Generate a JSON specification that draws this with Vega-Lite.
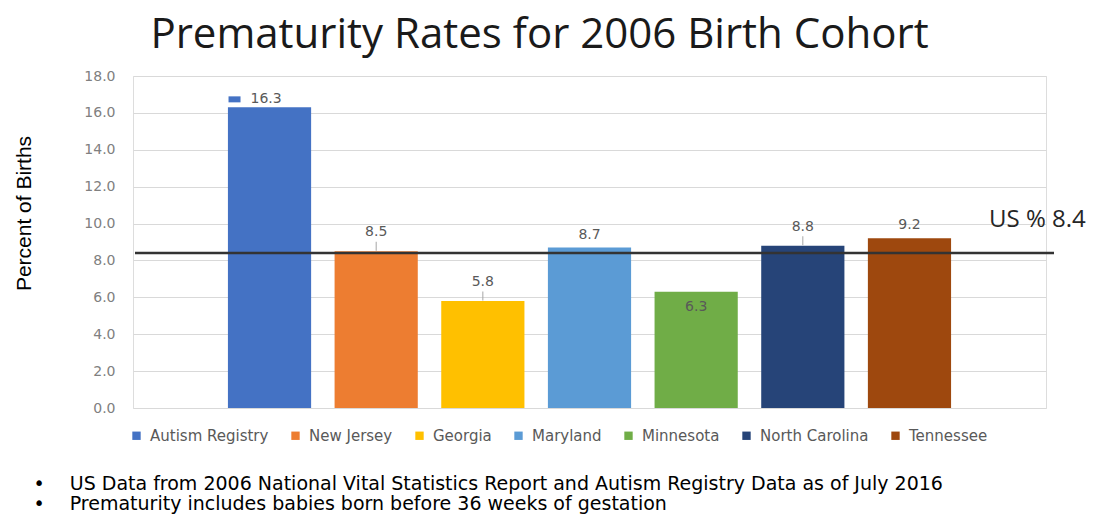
{
  "$schema": "https://vega.github.io/schema/vega-lite/v6.json",
  "width": 913,
  "height": 332,
  "autosize": "none",
  "padding": {"left": 133, "top": 76, "right": 50, "bottom": 106},
  "background": "white",
  "title": {
    "text": "Prematurity Rates for 2006 Birth Cohort",
    "font": "Open Sans",
    "fontSize": 42,
    "fontWeight": "normal",
    "color": "#1a1a1a",
    "anchor": "middle",
    "baseline": "top",
    "offset": 0,
    "dx": -50,
    "dy": -12
  },
  "data": {
    "values": [
      {"state": "Autism Registry", "pct": 16.3},
      {"state": "New Jersey", "pct": 8.5},
      {"state": "Georgia", "pct": 5.8},
      {"state": "Maryland", "pct": 8.7},
      {"state": "Minnesota", "pct": 6.3},
      {"state": "North Carolina", "pct": 8.8},
      {"state": "Tennessee", "pct": 9.2}
    ]
  },
  "encoding": {
    "x": {
      "field": "state",
      "type": "nominal",
      "sort": null,
      "scale": {"paddingInner": 0.22, "paddingOuter": 0.89},
      "axis": {
        "title": ["•\u2003\u00a0US Data from 2006 National Vital Statistics Report and Autism Registry Data as of July 2016", "•\u2003\u00a0Prematurity includes babies born before 36 weeks of gestation"],
        "labels": false,
        "ticks": false,
        "domain": false,
        "titleX": -100,
        "titleY": 81,
        "titleAlign": "left",
        "titleAngle": 0,
        "titleBaseline": "alphabetic",
        "titleFont": "DejaVu Sans",
        "titleFontSize": 19,
        "titleFontWeight": "normal",
        "titleColor": "#000000",
        "titleLineHeight": 20
      }
    },
    "y": {
      "field": "pct",
      "type": "quantitative",
      "scale": {"domain": [0, 18], "nice": false},
      "axis": {
        "title": "Percent of Births",
        "values": [0, 2, 4, 6, 8, 10, 12, 14, 16, 18],
        "format": ".1f",
        "ticks": false,
        "domain": false,
        "labelPadding": 18,
        "labelFont": "DejaVu Sans",
        "labelFontSize": 14,
        "labelColor": "#808080",
        "gridColor": "#d9d9d9",
        "gridWidth": 1,
        "titleFont": "Liberation Sans",
        "titleFontSize": 21,
        "titleFontWeight": "normal",
        "titleColor": "#000000",
        "titleX": -109,
        "titleY": 137,
        "titleAlign": "center",
        "titleBaseline": "middle",
        "titleAngle": -90
      }
    }
  },
  "layer": [
    {
      "mark": {"type": "bar"},
      "encoding": {
        "color": {
          "field": "state",
          "type": "nominal",
          "sort": null,
          "scale": {
            "domain": ["Autism Registry", "New Jersey", "Georgia", "Maryland", "Minnesota", "North Carolina", "Tennessee"],
            "range": ["#4472C4", "#ED7D31", "#FFC000", "#5B9BD5", "#70AD47", "#264478", "#9E480E"]
          },
          "legend": {
            "title": null,
            "orient": "none",
            "direction": "horizontal",
            "legendX": -4,
            "legendY": 352,
            "symbolType": "square",
            "symbolSize": 70,
            "symbolStrokeWidth": 0,
            "labelFont": "DejaVu Sans",
            "labelFontSize": 15,
            "labelColor": "#595959",
            "labelOffset": 6,
            "columnPadding": 19,
            "columns": 7
          }
        }
      }
    },
    {
      "transform": [{"filter": "datum.state == 'Tennessee'"}],
      "mark": {"type": "rule", "color": "#333333", "strokeWidth": 2.5},
      "encoding": {"y": {"datum": 8.4}, "x": {"value": 2}, "x2": {"value": 921}}
    },
    {
      "transform": [{"filter": "datum.state == 'New Jersey' || datum.state == 'Georgia' || datum.state == 'North Carolina'"}],
      "mark": {"type": "text", "dy": -19, "font": "DejaVu Sans", "fontSize": 14, "color": "#595959"},
      "encoding": {"text": {"field": "pct", "type": "quantitative", "format": ".1f"}}
    },
    {
      "transform": [{"filter": "datum.state == 'New Jersey' || datum.state == 'Georgia' || datum.state == 'North Carolina'"}],
      "mark": {"type": "tick", "orient": "vertical", "thickness": 1, "color": "#a6a6a6", "yOffset": -5, "opacity": 1},
      "encoding": {"size": {"value": 9}}
    },
    {
      "transform": [{"filter": "datum.state == 'Maryland' || datum.state == 'Tennessee'"}],
      "mark": {"type": "text", "dy": -13, "font": "DejaVu Sans", "fontSize": 14, "color": "#595959"},
      "encoding": {"text": {"field": "pct", "type": "quantitative", "format": ".1f"}}
    },
    {
      "transform": [{"filter": "datum.state == 'Minnesota'"}],
      "mark": {"type": "text", "dy": 15, "font": "DejaVu Sans", "fontSize": 14, "color": "#595959"},
      "encoding": {"text": {"field": "pct", "type": "quantitative", "format": ".1f"}}
    },
    {
      "transform": [{"filter": "datum.state == 'Autism Registry'"}],
      "mark": {"type": "text", "dy": -8, "dx": -19, "align": "left", "font": "DejaVu Sans", "fontSize": 14, "color": "#595959"},
      "encoding": {"text": {"field": "pct", "type": "quantitative", "format": ".1f"}}
    },
    {
      "transform": [{"filter": "datum.state == 'Autism Registry'"}],
      "mark": {"type": "point", "shape": "M-1,-0.5L1,-0.5L1,0.5L-1,0.5Z", "size": 144, "filled": true, "opacity": 1, "color": "#4472C4", "strokeWidth": 0, "xOffset": -35, "yOffset": -8}
    },
    {
      "transform": [{"filter": "datum.state == 'Tennessee'"}],
      "mark": {"type": "text", "text": "US % 8.4", "font": "Open Sans", "fontSize": 24, "color": "#262626", "dx": 128, "align": "center", "baseline": "middle"},
      "encoding": {"x": {"datum": "Tennessee"}, "y": {"datum": 10.2}}
    }
  ]
}
